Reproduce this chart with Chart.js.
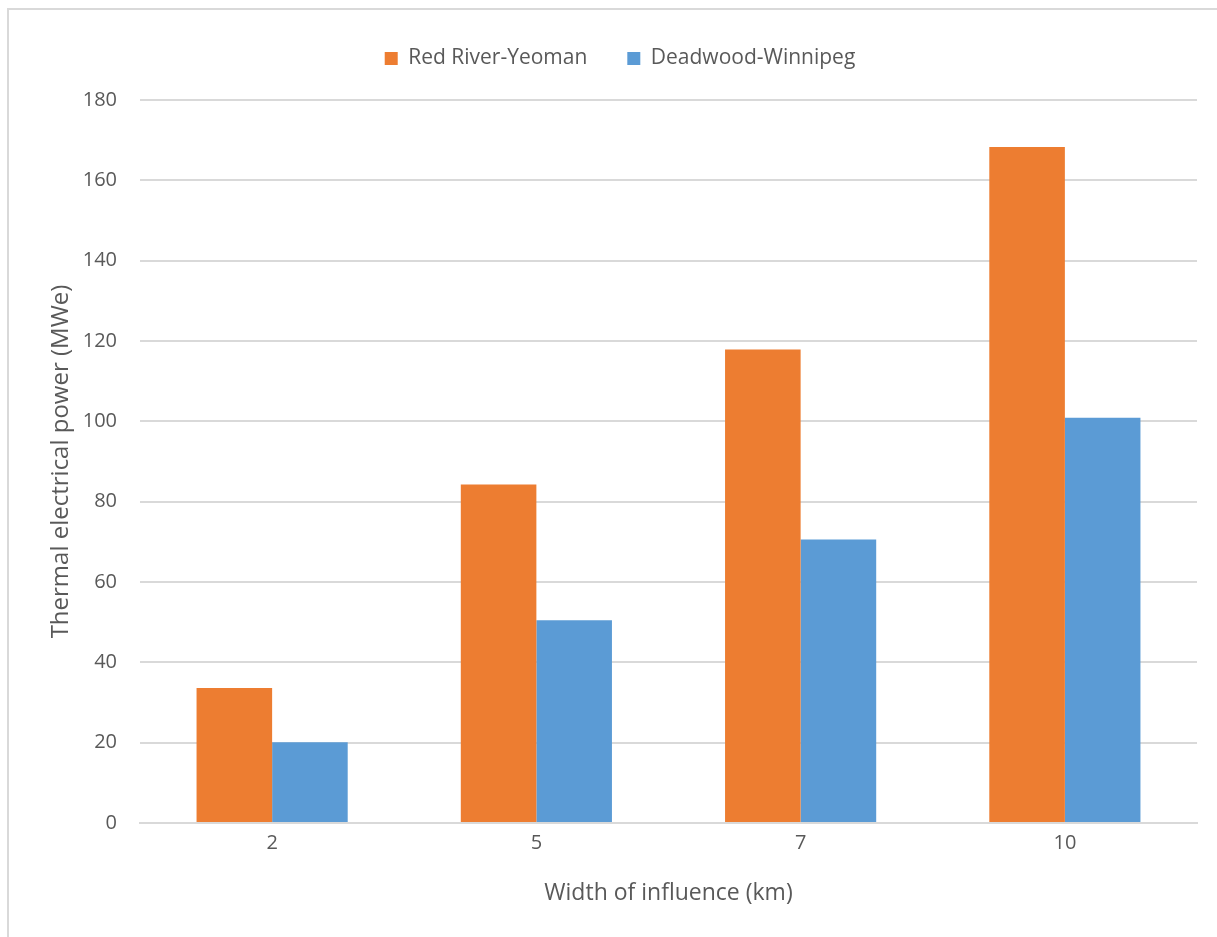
<!DOCTYPE html>
<html>
<head>
<meta charset="utf-8">
<script src="https://cdn.jsdelivr.net/npm/chart.js@4.4.1/dist/chart.umd.min.js"></script>
<style>
  html, body { margin: 0; padding: 0; background: #ffffff; }
  #wrap { position: relative; width: 1217px; height: 937px; overflow: hidden; }
  #frame { position: absolute; left: 7px; top: 8px; width: 1300px; height: 1000px;
           border: 2px solid #d9d9d9; box-sizing: border-box; }
  #chart { position: absolute; left: 0; top: 0; }
</style>
</head>
<body>
<div id="wrap">
  <div id="frame"></div>
  <canvas id="chart" width="1217" height="937"></canvas>
</div>
<script>
const widths = ['2', '5', '7', '10'];
const redRiverYeoman = [33.6, 84.3, 117.9, 168.3];
const deadwoodWinnipeg = [20.1, 50.5, 70.6, 100.9];
const yTicks = [0, 20, 40, 60, 80, 100, 120, 140, 160, 180];

const textColor = '#595959';
const gridColor = '#d9d9d9';
const fontFamily = "'Open Sans', 'Noto Sans', sans-serif";

new Chart(document.getElementById('chart'), {
    type: 'bar',
    data: {
        labels: widths,
        datasets: [{
            label: 'Red River-Yeoman',
            data: redRiverYeoman,
            backgroundColor: '#ed7d31',
            borderWidth: 0
        }, {
            label: 'Deadwood-Winnipeg',
            data: deadwoodWinnipeg,
            backgroundColor: '#5b9bd5',
            borderWidth: 0
        }]
    },
    options: {
        responsive: false,
        animation: false,
        layout: {
            padding: { left: 43, right: 20, top: 8, bottom: 0 }
        },
        datasets: {
            bar: { barPercentage: 1, categoryPercentage: 0.572 }
        },
        plugins: {
            legend: {
                position: 'top',
                labels: {
                    color: textColor,
                    boxWidth: 13,
                    boxHeight: 13,
                    padding: 40,
                    font: { family: fontFamily, size: 21 }
                }
            },
            tooltip: { enabled: false }
        },
        scales: {
            x: {
                grid: { display: false, drawTicks: false },
                border: { color: gridColor, width: 2 },
                ticks: { color: textColor, padding: 8, font: { family: fontFamily, size: 20 } },
                title: {
                    display: true,
                    text: 'Width of influence (km)',
                    color: textColor,
                    padding: { top: 10, bottom: 30 },
                    font: { family: fontFamily, size: 23 }
                },
                afterFit: s => { s.height = 114; }
            },
            y: {
                min: 0,
                max: 180,
                afterBuildTicks: s => { s.ticks = yTicks.map(v => ({ value: v })); },
                grid: { color: gridColor, lineWidth: 2, drawTicks: false },
                border: { display: false },
                ticks: { color: textColor, padding: 23, font: { family: fontFamily, size: 20 } },
                title: {
                    display: true,
                    text: 'Thermal electrical power (MWe)',
                    color: textColor,
                    padding: { top: 4, bottom: 0 },
                    font: { family: fontFamily, size: 24 }
                },
                afterFit: s => { s.width = 97; }
            }
        }
    },
    plugins: [{
        id: 'legendGap',
        beforeInit(chart) {
            const fit = chart.legend.fit;
            chart.legend.fit = function () {
                fit.bind(chart.legend)();
                this.height += 21;
            };
        }
    }]
});
</script>
</body>
</html>
